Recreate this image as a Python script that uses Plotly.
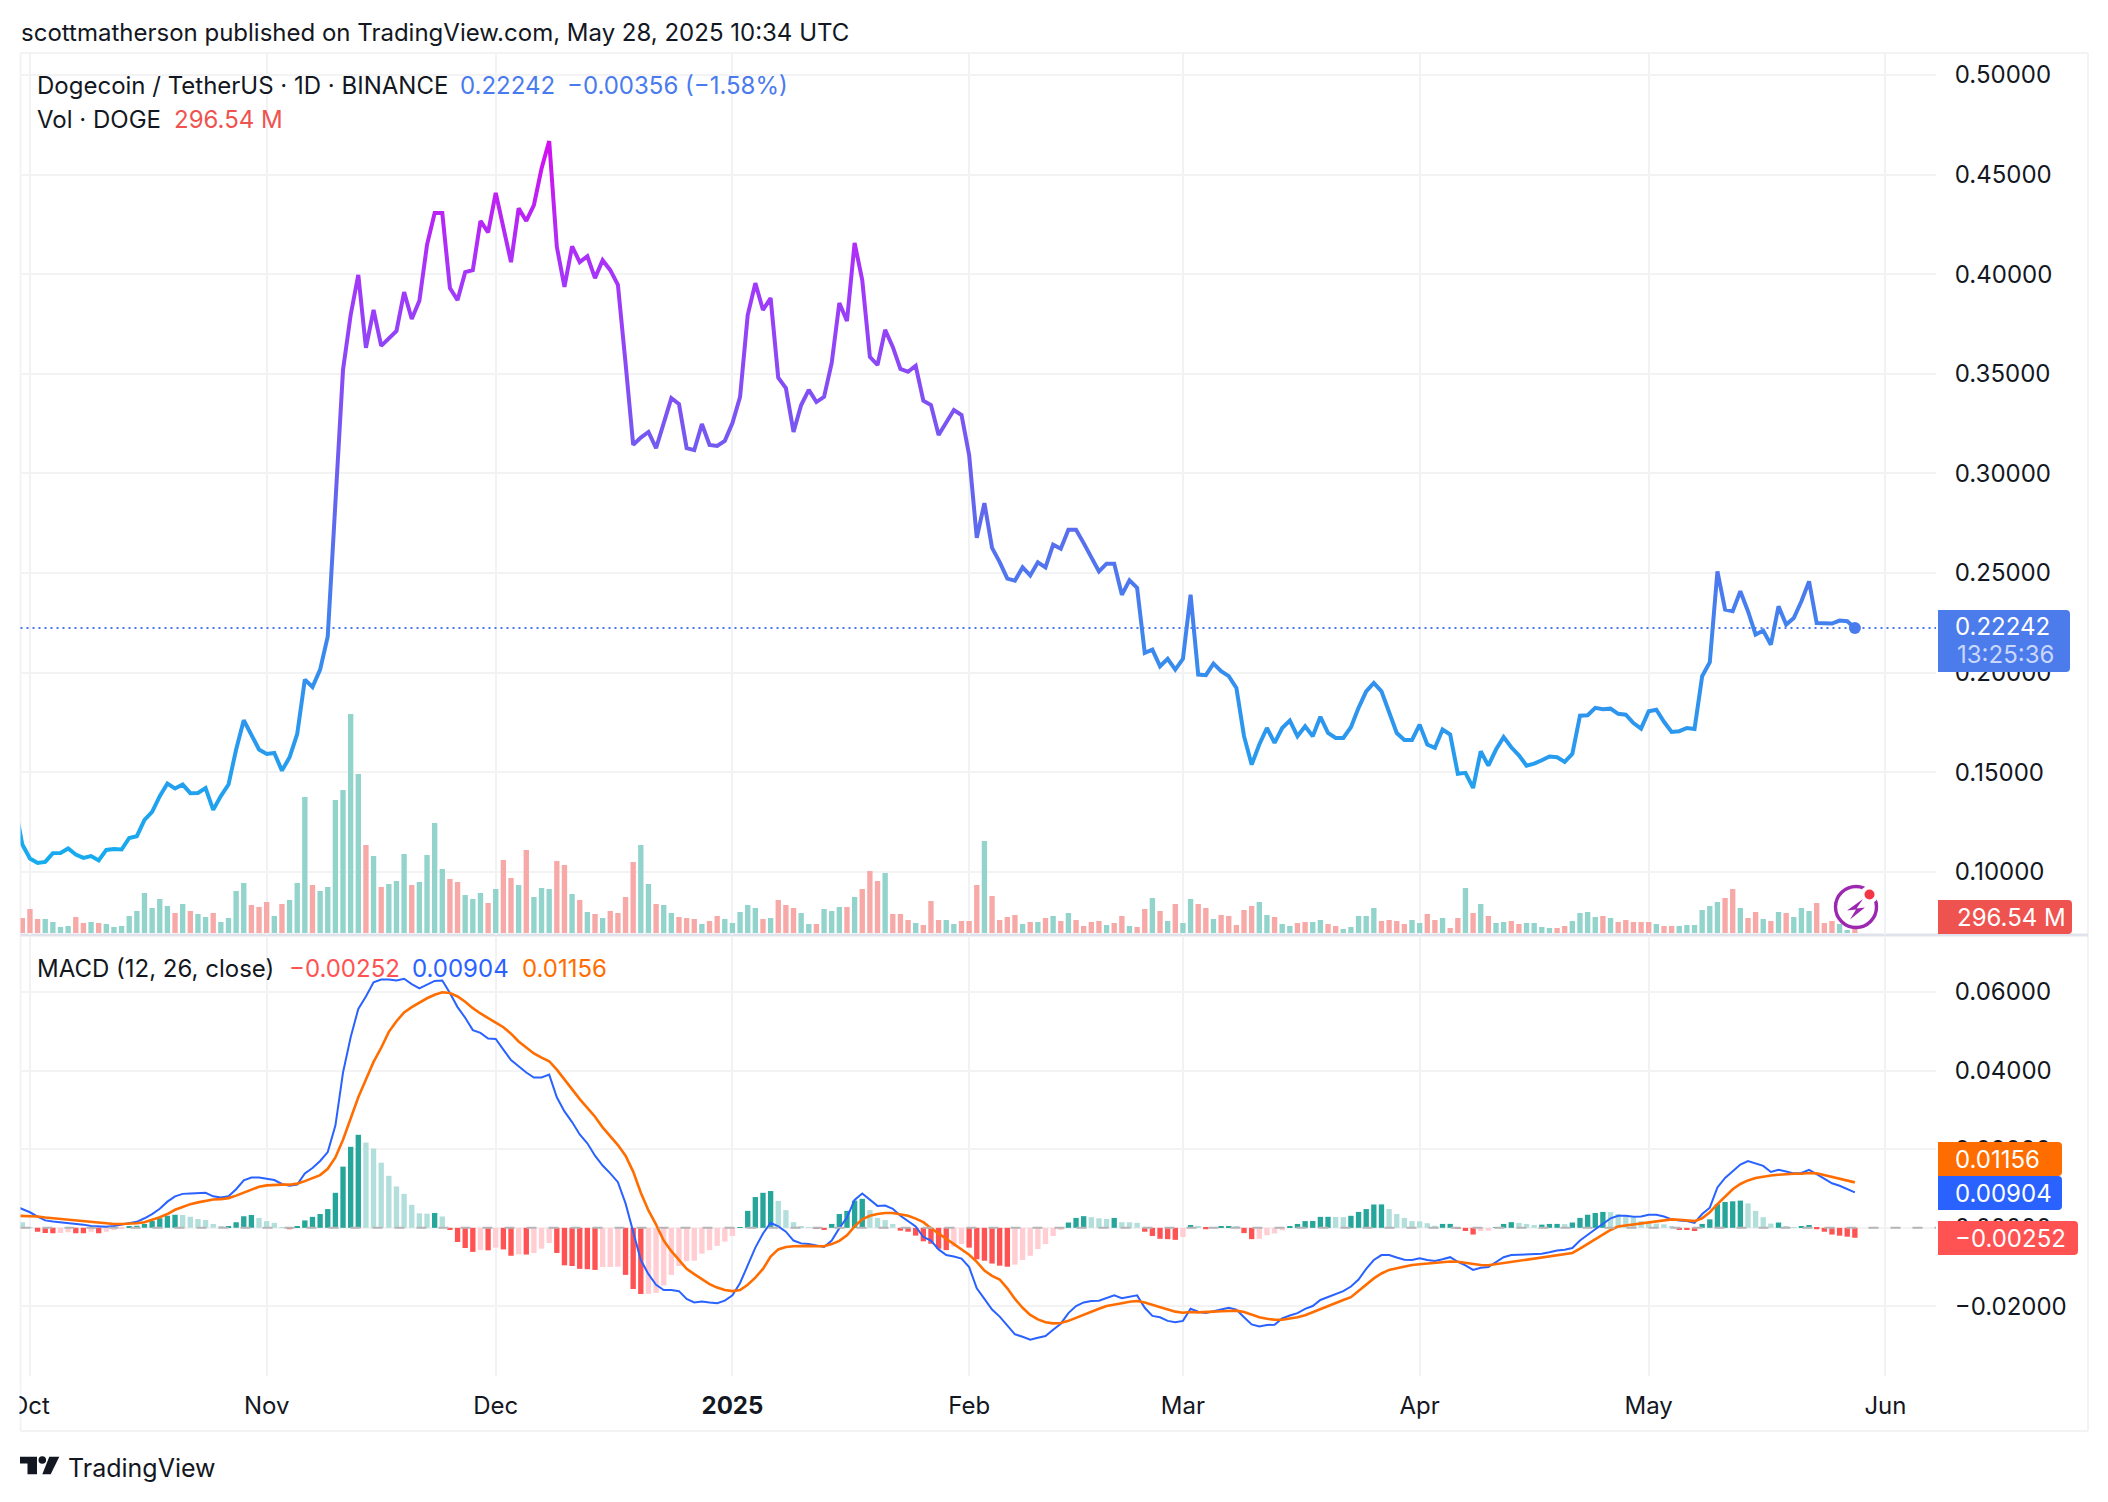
import pandas as pd
import plotly.graph_objects as go

W, H = 2108, 1502

# daily closes, 2024-09-29 onwards
close = [
    0.1337, 0.1137, 0.1067, 0.1045, 0.1050, 0.1094, 0.1095, 0.1117, 0.1087, 0.1070,
    0.1079, 0.1057, 0.1110, 0.1115, 0.1112, 0.1170, 0.1179, 0.1261, 0.1301, 0.1380,
    0.1443, 0.1418, 0.1438, 0.1395, 0.1396, 0.1421, 0.1311, 0.1380, 0.1438, 0.1614,
    0.1761, 0.1689, 0.1614, 0.1592, 0.1597, 0.1508, 0.1575, 0.1692, 0.1965, 0.1928,
    0.2015, 0.2182, 0.2866, 0.3520, 0.3795, 0.3996, 0.3630, 0.3820, 0.3640, 0.3680,
    0.3715, 0.3910, 0.3775, 0.3866, 0.4147, 0.4307, 0.4307, 0.3930, 0.3870, 0.4010,
    0.4020, 0.4267, 0.4210, 0.4408, 0.4240, 0.4060, 0.4330, 0.4267, 0.4347, 0.4530,
    0.4668, 0.4137, 0.3936, 0.4140, 0.4060, 0.4090, 0.3980, 0.4070, 0.4020, 0.3946,
    0.3554, 0.3143, 0.3180, 0.3208, 0.3127, 0.3253, 0.3378, 0.3348, 0.3127, 0.3117,
    0.3248, 0.3143, 0.3138, 0.3163, 0.3253, 0.3384, 0.3795, 0.3955, 0.3820, 0.3880,
    0.3480, 0.3428, 0.3208, 0.3343, 0.3419, 0.3358, 0.3384, 0.3554, 0.3855, 0.3765,
    0.4157, 0.3970, 0.3585, 0.3544, 0.3720, 0.3635, 0.3524, 0.3510, 0.3540, 0.3365,
    0.3343, 0.3193, 0.3253, 0.3318, 0.3293, 0.3092, 0.2676, 0.2851, 0.2626, 0.2555,
    0.2472, 0.2462, 0.2528, 0.2488, 0.2554, 0.2528, 0.2642, 0.2622, 0.2717, 0.2717,
    0.2650, 0.2575, 0.2508, 0.2547, 0.2547, 0.2391, 0.2463, 0.2425, 0.2099, 0.2115,
    0.2032, 0.2069, 0.2015, 0.2069, 0.2391, 0.1990, 0.1987, 0.2045, 0.2007, 0.1982,
    0.1923, 0.1681, 0.1538, 0.1639, 0.1722, 0.1647, 0.1722, 0.1759, 0.1681, 0.1731,
    0.1681, 0.1778, 0.1697, 0.1672, 0.1672, 0.1726, 0.1823, 0.1906, 0.1948, 0.1906,
    0.1806, 0.1697, 0.1662, 0.1662, 0.1739, 0.1639, 0.1622, 0.1714, 0.1689, 0.1492,
    0.1497, 0.1421, 0.1605, 0.1533, 0.1614, 0.1676, 0.1625, 0.1585, 0.1533, 0.1543,
    0.1560, 0.1579, 0.1575, 0.1552, 0.1592, 0.1784, 0.1786, 0.1823, 0.1816, 0.1819,
    0.1793, 0.1789, 0.1747, 0.1719, 0.1806, 0.1814, 0.1753, 0.1702, 0.1706, 0.1722,
    0.1717, 0.1982, 0.2052, 0.2508, 0.2316, 0.2308, 0.2408, 0.2308, 0.2191, 0.2211,
    0.2140, 0.2333, 0.2241, 0.2274, 0.2358, 0.2458, 0.2249, 0.2247, 0.2246, 0.2261,
    0.2258, 0.22242,
]

# volume in millions of DOGE
volume = [
    900,
    900, 1440, 840, 840, 660, 360, 420, 960, 600, 660,
    600, 540, 360, 420, 1020, 1320, 2400, 1500, 2040, 1620,
    1200, 1740, 1320, 1140, 960, 1200, 660, 900, 2520, 3000,
    1680, 1560, 1860, 1020, 1740, 1980, 3000, 8160, 2880, 2520,
    2760, 7980, 8580, 13140, 9540, 5280, 4620, 2760, 2940, 3120,
    4740, 2880, 3060, 4680, 6600, 3840, 3240, 3060, 2280, 2040,
    2400, 1800, 2640, 4380, 3300, 2880, 4980, 2160, 2700, 2640,
    4320, 4080, 2340, 1980, 1260, 1140, 900, 1320, 1200, 2160,
    4260, 5280, 2940, 1740, 1680, 1200, 960, 900, 840, 540,
    720, 1020, 840, 600, 1260, 1680, 1500, 840, 900, 1980,
    1680, 1500, 1200, 540, 540, 1440, 1320, 1560, 1560, 2160,
    2640, 3720, 3120, 3600, 1140, 1140, 780, 600, 480, 1920,
    780, 780, 540, 720, 720, 2880, 5520, 2220, 780, 960,
    1080, 540, 660, 660, 900, 1020, 720, 1200, 780, 420,
    660, 720, 480, 600, 1020, 420, 360, 1440, 2100, 1320,
    720, 1740, 600, 2040, 1740, 1500, 840, 1080, 1020, 480,
    1380, 1620, 1860, 1080, 960, 540, 420, 600, 660, 660,
    780, 540, 420, 240, 360, 1020, 1020, 1500, 720, 780,
    720, 540, 780, 600, 1140, 780, 900, 300, 900, 2700,
    1200, 1740, 1020, 600, 660, 720, 540, 600, 600, 360,
    300, 300, 420, 720, 1200, 1260, 960, 1020, 900, 660,
    780, 660, 660, 660, 540, 420, 420, 420, 480, 480,
    1380, 1620, 1860, 2100, 2640, 1500, 900, 1260, 840, 720,
    1260, 1200, 960, 1500, 1320, 1800, 600, 720, 540, 180,
    296.54,
]

volume_side = (
    "r"
    "rrrggggrrg" "rggggggggg" "rgrggrgggg" "rrrgrgggrg" "gggggrgrgg"
    "grggggrrgg" "grgrrgrggg" "rrgrgrgrrr" "rggrggrrrg" "rrgggggrgr"
    "rrggrgggrg" "rrrgrrrgrr" "rggrrrgrrr" "rgrgrgrgrr" "rrgrrgrrgr"
    "grggrrgrrr" "rrggrggrrg" "grrgggggrr" "rrggrrgrrg" "rgrggrrggg"
    "grrggggrgr" "rrrrgrrggg" "gggrrgrrgr" "grgggrrrgg" "r"
)

macd_line = [
    0.00560,
    0.00486, 0.00396, 0.00288, 0.00189, 0.00162, 0.00144, 0.00135, 0.00117, 0.00081, 0.00045,
    0.00027, 0.00027, 0.00045, 0.00081, 0.00117, 0.00153, 0.00243, 0.00351, 0.00486, 0.00666,
    0.00801, 0.00864, 0.00873, 0.00882, 0.00891, 0.00801, 0.00774, 0.00801, 0.00981, 0.01206,
    0.01278, 0.01278, 0.01251, 0.01215, 0.01116, 0.01071, 0.01098, 0.01386, 0.01521, 0.01701,
    0.01926, 0.02601, 0.03951, 0.04851, 0.05571, 0.05886, 0.06246, 0.06318, 0.06318, 0.06291,
    0.06336, 0.06201, 0.06093, 0.06183, 0.06282, 0.06291, 0.05976, 0.05616, 0.05346, 0.05031,
    0.04959, 0.04815, 0.04806, 0.04536, 0.04266, 0.04113, 0.03951, 0.03825, 0.03825, 0.03897,
    0.03321, 0.02961, 0.02691, 0.02376, 0.02151, 0.01836, 0.01584, 0.01386, 0.01161, 0.00621,
    -0.00099, -0.00819, -0.01179, -0.01449, -0.01584, -0.01584, -0.01611, -0.01809, -0.01899, -0.01872,
    -0.01899, -0.01917, -0.01854, -0.01719, -0.01404, -0.00954, -0.00504, -0.00144, 0.00126, 0.00036,
    -0.00099, -0.00324, -0.00396, -0.00414, -0.00459, -0.00486, -0.00324, -0.00009, 0.00261, 0.00711,
    0.00873, 0.00711, 0.00558, 0.00567, 0.00486, 0.00306, 0.00171, 0.00036, -0.00234, -0.00324,
    -0.00549, -0.00693, -0.00729, -0.00783, -0.00999, -0.01539, -0.01809, -0.02079, -0.02259, -0.02484,
    -0.02709, -0.02772, -0.02844, -0.02799, -0.02754, -0.02592, -0.02439, -0.02169, -0.01989, -0.01899,
    -0.01863, -0.01854, -0.01791, -0.01719, -0.01791, -0.01746, -0.01719, -0.02034, -0.02241, -0.02277,
    -0.02367, -0.02403, -0.02367, -0.02061, -0.02133, -0.02169, -0.02115, -0.02079, -0.02034, -0.02079,
    -0.02277, -0.02457, -0.02511, -0.02475, -0.02466, -0.02304, -0.02232, -0.02169, -0.02061, -0.01989,
    -0.01836, -0.01764, -0.01692, -0.01611, -0.01494, -0.01314, -0.01044, -0.00819, -0.00693, -0.00693,
    -0.00756, -0.00810, -0.00819, -0.00774, -0.00819, -0.00846, -0.00801, -0.00747, -0.00864, -0.00954,
    -0.01071, -0.01017, -0.00999, -0.00864, -0.00747, -0.00693, -0.00684, -0.00693, -0.00684, -0.00657,
    -0.00621, -0.00576, -0.00558, -0.00513, -0.00324, -0.00171, -0.00036, 0.00099, 0.00243, 0.00306,
    0.00306, 0.00279, 0.00288, 0.00333, 0.00333, 0.00288, 0.00216, 0.00189, 0.00171, 0.00126,
    0.00351, 0.00513, 0.01026, 0.01269, 0.01431, 0.01611, 0.01701, 0.01638, 0.01575, 0.01422,
    0.01476, 0.01431, 0.01386, 0.01395, 0.01476, 0.01368, 0.01251, 0.01134, 0.01071, 0.00981,
    0.00904,
]

signal_line = [
    0.00310,
    0.00306, 0.00306, 0.00288, 0.00261, 0.00243, 0.00225, 0.00207, 0.00189, 0.00162, 0.00135,
    0.00117, 0.00108, 0.00099, 0.00099, 0.00099, 0.00117, 0.00144, 0.00198, 0.00270, 0.00351,
    0.00459, 0.00531, 0.00603, 0.00648, 0.00693, 0.00720, 0.00729, 0.00756, 0.00819, 0.00891,
    0.00981, 0.01044, 0.01080, 0.01098, 0.01098, 0.01098, 0.01125, 0.01188, 0.01269, 0.01341,
    0.01503, 0.01791, 0.02241, 0.02781, 0.03321, 0.03771, 0.04221, 0.04581, 0.04986, 0.05256,
    0.05481, 0.05616, 0.05733, 0.05841, 0.05931, 0.05994, 0.05976, 0.05886, 0.05751, 0.05589,
    0.05454, 0.05328, 0.05220, 0.05103, 0.04941, 0.04743, 0.04581, 0.04437, 0.04329, 0.04239,
    0.04023, 0.03771, 0.03519, 0.03276, 0.03051, 0.02826, 0.02556, 0.02331, 0.02106, 0.01836,
    0.01431, 0.00891, 0.00441, 0.00081, -0.00324, -0.00594, -0.00819, -0.01044, -0.01179, -0.01314,
    -0.01431, -0.01521, -0.01584, -0.01611, -0.01584, -0.01449, -0.01269, -0.01044, -0.00729, -0.00549,
    -0.00486, -0.00468, -0.00459, -0.00459, -0.00468, -0.00468, -0.00414, -0.00333, -0.00189, 0.00036,
    0.00216, 0.00306, 0.00351, 0.00378, 0.00378, 0.00351, 0.00306, 0.00234, 0.00144, -0.00009,
    -0.00144, -0.00279, -0.00414, -0.00531, -0.00684, -0.00864, -0.01089, -0.01224, -0.01314, -0.01539,
    -0.01809, -0.02034, -0.02214, -0.02331, -0.02403, -0.02430, -0.02421, -0.02367, -0.02286, -0.02214,
    -0.02142, -0.02061, -0.01989, -0.01944, -0.01917, -0.01881, -0.01863, -0.01899, -0.01962, -0.02016,
    -0.02079, -0.02133, -0.02160, -0.02142, -0.02151, -0.02151, -0.02133, -0.02124, -0.02115, -0.02106,
    -0.02142, -0.02214, -0.02277, -0.02313, -0.02340, -0.02340, -0.02313, -0.02277, -0.02223, -0.02142,
    -0.02061, -0.01989, -0.01917, -0.01836, -0.01764, -0.01611, -0.01449, -0.01287, -0.01161, -0.01071,
    -0.01026, -0.00981, -0.00945, -0.00927, -0.00909, -0.00891, -0.00873, -0.00855, -0.00864, -0.00891,
    -0.00927, -0.00945, -0.00954, -0.00927, -0.00891, -0.00864, -0.00837, -0.00810, -0.00783, -0.00756,
    -0.00729, -0.00702, -0.00675, -0.00639, -0.00531, -0.00414, -0.00297, -0.00171, -0.00054, 0.00036,
    0.00063, 0.00099, 0.00126, 0.00153, 0.00180, 0.00207, 0.00216, 0.00207, 0.00189, 0.00171,
    0.00243, 0.00396, 0.00603, 0.00801, 0.00981, 0.01116, 0.01206, 0.01269, 0.01305, 0.01332,
    0.01350, 0.01368, 0.01377, 0.01377, 0.01395, 0.01386, 0.01341, 0.01296, 0.01251, 0.01206,
    0.01156,
]

macd_hist = [
    0.00150,
    0.00144, 0.00018, -0.00099, -0.00130, -0.00135, -0.00130, -0.00115, -0.00135, -0.00135, -0.00100,
    -0.00135, -0.00100, -0.00055, -0.00027, 0.00027, 0.00054, 0.00099, 0.00171, 0.00243, 0.00306,
    0.00333, 0.00324, 0.00279, 0.00225, 0.00198, 0.00099, 0.00036, 0.00045, 0.00144, 0.00297,
    0.00324, 0.00252, 0.00171, 0.00126, 0.00018, -0.00036, 0.00027, 0.00189, 0.00279, 0.00351,
    0.00477, 0.00891, 0.01557, 0.02061, 0.02367, 0.02169, 0.02016, 0.01656, 0.01323, 0.01053,
    0.00864, 0.00585, 0.00369, 0.00360, 0.00378, 0.00288, -0.00054, -0.00360, -0.00513, -0.00612,
    -0.00567, -0.00572, -0.00504, -0.00549, -0.00711, -0.00675, -0.00680, -0.00639, -0.00531, -0.00387,
    -0.00639, -0.00954, -0.00972, -0.01044, -0.01053, -0.01071, -0.00999, -0.00995, -0.00990, -0.01197,
    -0.01557, -0.01683, -0.01680, -0.01656, -0.01467, -0.01197, -0.00972, -0.00846, -0.00837, -0.00657,
    -0.00567, -0.00459, -0.00351, -0.00207, 0.00018, 0.00432, 0.00783, 0.00891, 0.00936, 0.00684,
    0.00450, 0.00144, 0.00036, 0.00018, -0.00010, -0.00054, 0.00099, 0.00351, 0.00432, 0.00693,
    0.00738, 0.00450, 0.00252, 0.00198, 0.00099, -0.00072, -0.00099, -0.00198, -0.00342, -0.00405,
    -0.00531, -0.00567, -0.00477, -0.00414, -0.00504, -0.00801, -0.00837, -0.00909, -0.00963, -0.00990,
    -0.00936, -0.00819, -0.00711, -0.00540, -0.00414, -0.00207, -0.00054, 0.00135, 0.00252, 0.00297,
    0.00270, 0.00243, 0.00225, 0.00252, 0.00144, 0.00140, 0.00126, -0.00099, -0.00207, -0.00279,
    -0.00288, -0.00306, -0.00234, 0.00072, 0.00027, -0.00036, -0.00009, 0.00036, 0.00045, 0.00036,
    -0.00135, -0.00288, -0.00280, -0.00189, -0.00144, -0.00063, 0.00045, 0.00099, 0.00171, 0.00175,
    0.00279, 0.00280, 0.00275, 0.00270, 0.00306, 0.00405, 0.00477, 0.00594, 0.00596, 0.00477,
    0.00351, 0.00252, 0.00171, 0.00165, 0.00117, 0.00054, 0.00099, 0.00100, -0.00027, -0.00081,
    -0.00171, -0.00081, -0.00072, 0.00018, 0.00099, 0.00144, 0.00126, 0.00099, 0.00072, 0.00081,
    0.00099, 0.00100, 0.00095, 0.00135, 0.00252, 0.00333, 0.00378, 0.00405, 0.00400, 0.00351,
    0.00306, 0.00261, 0.00171, 0.00144, 0.00108, 0.00090, 0.00036, -0.00054, -0.00056, -0.00081,
    0.00099, 0.00216, 0.00603, 0.00657, 0.00675, 0.00693, 0.00621, 0.00432, 0.00270, 0.00108,
    0.00135, 0.00027, 0.00018, 0.00027, 0.00072, -0.00036, -0.00099, -0.00171, -0.00200, -0.00225,
    -0.00252,
]

assert len(close) == len(volume) == len(volume_side) == len(macd_line) == len(signal_line) == len(macd_hist)

dates = pd.date_range("2024-09-29", periods=len(close), freq="D")

month_ticks = ["2024-10-01", "2024-11-01", "2024-12-01", "2025-01-01", "2025-02-01",
               "2025-03-01", "2025-04-01", "2025-05-01", "2025-06-01"]
month_labels = ["Oct", "Nov", "Dec", "<b>2025</b>", "Feb", "Mar", "Apr", "May", "Jun"]
price_ticks = [0.10, 0.15, 0.20, 0.25, 0.30, 0.35, 0.40, 0.45, 0.50]
macd_ticks = [-0.02, 0, 0.02, 0.04, 0.06]
x_range = ["2024-09-29 18:15", "2025-06-07 15:00"]

INK = "#131722"
GRID = "#F3F3F4"
FONT = "Inter"


def px(x):
    return x / W


def py(y):
    return 1 - y / H


vol_colors = ["#92D3CC" if s == "g" else "#F7A9A7" for s in volume_side]

hist_colors = []
for i, h in enumerate(macd_hist):
    prev = macd_hist[i - 1] if i else h
    if h >= 0:
        hist_colors.append("#26A69A" if h >= prev else "#B2DFDB")
    else:
        hist_colors.append("#FFCDD2" if h > prev else "#FF5252")

fig = go.Figure()
fig.add_bar(x=dates, y=volume, marker_color=vol_colors, marker_line_width=0, xaxis="x", yaxis="y")
fig.add_scatter(x=dates, y=close, mode="lines", line=dict(color="#5B6FF0", width=4), xaxis="x", yaxis="y3")
fig.add_scatter(x=dates[-1:], y=close[-1:], mode="markers", marker=dict(color="#4A7BEE", size=12), xaxis="x", yaxis="y3")
fig.add_bar(x=dates, y=macd_hist, marker_color=hist_colors, marker_line_width=0, xaxis="x2", yaxis="y2")
fig.add_scatter(x=dates, y=macd_line, mode="lines", line=dict(color="#2962FF", width=2), xaxis="x2", yaxis="y2")
fig.add_scatter(x=dates, y=signal_line, mode="lines", line=dict(color="#FF6D00", width=2.6), xaxis="x2", yaxis="y2")

shapes = []


def line(x0, y0, x1, y1, color, width=2):
    shapes.append(dict(type="line", xref="paper", yref="paper", x0=px(x0), y0=py(y0), x1=px(x1), y1=py(y1),
                       line=dict(color=color, width=width), layer="below"))


def box(x0, y0, x1, y1, color, r=4):
    # only the right-hand corners are rounded
    d = (f"M {px(x0)} {py(y0)} L {px(x1 - r)} {py(y0)} Q {px(x1)} {py(y0)} {px(x1)} {py(y0 + r)} "
         f"L {px(x1)} {py(y1 - r)} Q {px(x1)} {py(y1)} {px(x1 - r)} {py(y1)} L {px(x0)} {py(y1)} Z")
    shapes.append(dict(type="path", xref="paper", yref="paper", path=d, fillcolor=color, line_width=0, layer="above"))


def poly(points, color):
    d = "M " + " L ".join(f"{px(x)} {py(y)}" for x, y in points) + " Z"
    shapes.append(dict(type="path", xref="paper", yref="paper", path=d, fillcolor=color, line_width=0, layer="above"))


def disc(cx, cy, r, fill, edge=None, width=0):
    shapes.append(dict(type="circle", xref="paper", yref="paper", x0=px(cx - r), x1=px(cx + r),
                       y0=py(cy + r), y1=py(cy - r), fillcolor=fill,
                       line=dict(color=edge or fill, width=width), layer="above"))


# outer frame and pane separator
line(20.5, 53, 2088, 53, GRID)
line(20.5, 53, 20.5, 1431, GRID)
line(2088, 53, 2088, 1431, GRID)
line(20.5, 1431, 2088, 1431, GRID)
line(20.5, 935, 2088, 935, "#E0E3EB", 3)

# last price and zero lines
shapes.append(dict(type="line", xref="paper", yref="y3", x0=px(20.5), x1=px(1936), y0=close[-1], y1=close[-1],
                   line=dict(color="#4A7BEE", width=2, dash="2px,4px"), layer="above"))
shapes.append(dict(type="line", xref="paper", yref="y2", x0=px(20.5), x1=px(1936), y0=0, y1=0,
                   line=dict(color="#B5B5B8", width=2, dash="10px,12px"), layer="above"))

# cut the Oct label at the pane edge
shapes.append(dict(type="rect", xref="paper", yref="paper", x0=0, x1=px(19.5), y0=py(1425), y1=py(1385),
                   fillcolor="white", line_width=0, layer="above"))

# price scale tags
box(1938, 610, 2070, 672, "#4C7BEC")
box(1938, 900, 2072, 934, "#EF5350")
box(1938, 1142, 2062, 1176, "#FF6D00")
box(1938, 1176, 2062, 1210, "#2962FF")
box(1938, 1221, 2078, 1255, "#FF5252")

# lightning badge
disc(1856, 907, 20.5, "white", "#9C27B0", 3.4)
disc(1869.5, 894.5, 9, "white")
disc(1869.5, 894.5, 5, "#F23645")
poly([(1863, 899), (1847, 910.5), (1856, 909.5), (1850, 919.5), (1865, 907.5), (1856.5, 908.5)], "#9C27B0")

# TradingView mark
poly([(20, 1456.7), (37, 1456.7), (37, 1474.3), (27.5, 1474.3), (27.5, 1463.5), (20, 1463.5)], INK)
disc(42.3, 1460, 3.8, INK)
poly([(49.3, 1456.7), (59.3, 1456.7), (50.7, 1474.3), (42.3, 1474.3)], INK)

annotations = []


def label(x, y, text, color=INK, size=24):
    annotations.append(dict(xref="paper", yref="paper", x=px(x), y=py(y), text=text, showarrow=False,
                            xanchor="left", yanchor="middle", borderpad=0,
                            font=dict(family=FONT, size=size, color=color)))


label(20, 32, "scottmatherson published on TradingView.com, May 28, 2025 10:34 UTC")
label(36, 86, "Dogecoin / TetherUS · 1D · BINANCE")
label(459, 86, "0.22242", "#4A7BEE")
label(566, 86, "−0.00356 (−1.58%)", "#4A7BEE")
label(36, 120, "Vol · DOGE")
label(173, 120, "296.54 M", "#EF5350")
label(36, 968, "MACD (12, 26, close)")
label(288, 968, "−0.00252", "#FF5252")
label(411, 968, "0.00904", "#2962FF")
label(521, 968, "0.01156", "#FF6D00")

label(1954, 626, "0.22242", "white")
label(1956, 654, "13:25:36", "#C9D7FA")
label(1956, 917, "296.54 M", "white")
label(1954, 1159, "0.01156", "white")
label(1954, 1193, "0.00904", "white")
label(1954, 1238, "−0.00252", "white")
label(67, 1468, "TradingView", INK, 25)

x_common = dict(type="date", range=x_range, tickmode="array", tickvals=month_ticks, ticktext=month_labels,
                showgrid=True, gridcolor="#F1F2F4", gridwidth=2, zeroline=False, showline=False, automargin=False)
y_common = dict(side="right", showline=False, zeroline=False, showgrid=True, gridcolor=GRID, gridwidth=2,
                ticks="outside", ticklen=13, tickcolor="rgba(0,0,0,0)", tickfont=dict(family=FONT, size=24, color=INK),
                tickformat=".5f", tickmode="array", automargin=False)

fig.update_layout(
    width=W,
    height=H,
    autosize=False,
    margin=dict(l=0, r=0, t=0, b=0, autoexpand=False),
    paper_bgcolor="white",
    plot_bgcolor="white",
    showlegend=False,
    barmode="overlay",
    bargap=0.3,
    hovermode=False,
    font=dict(family=FONT, color=INK),
    xaxis=dict(x_common, domain=[px(20.5), px(1936)], anchor="y", showticklabels=False),
    xaxis2=dict(x_common, domain=[px(20.5), px(1936)], anchor="y2", showticklabels=True,
                ticks="outside", ticklen=8, tickcolor="rgba(0,0,0,0)",
                tickfont=dict(family=FONT, size=24, color=INK)),
    yaxis=dict(domain=[py(935), py(53)], range=[-120, 52800], anchor="x", visible=False),
    yaxis3=dict(y_common, overlaying="y", anchor="x", range=[0.0683, 0.511], tickvals=price_ticks),
    yaxis2=dict(y_common, domain=[py(1376), py(936)], anchor="x2", range=[-0.0377, 0.07425], tickvals=macd_ticks),
    shapes=shapes,
    annotations=annotations,
)

# plotly has no vertical gradient stroke, so it is set on the price path once drawn
gradient_js = """
document.body.style.margin = '0';
var svg = document.querySelector('.main-svg');
var ns = 'http://www.w3.org/2000/svg';
var grad = document.createElementNS(ns, 'linearGradient');
grad.setAttribute('id', 'priceGradient');
grad.setAttribute('x1', '0'); grad.setAttribute('y1', '0');
grad.setAttribute('x2', '0'); grad.setAttribute('y2', '1');
[['0', '#D210F0'], ['0.2', '#A238FA'], ['0.5', '#6366EE'], ['0.75', '#3390EE'], ['1', '#16ACEE']].forEach(function (s) {
    var stop = document.createElementNS(ns, 'stop');
    stop.setAttribute('offset', s[0]);
    stop.setAttribute('stop-color', s[1]);
    grad.appendChild(stop);
});
svg.querySelector('defs').appendChild(grad);
document.querySelectorAll('.js-line').forEach(function (p) {
    if (p.style.strokeWidth === '4px') { p.style.stroke = 'url(#priceGradient)'; }
});
"""

fig.write_html("out.html", post_script=gradient_js, config={"displayModeBar": False})
